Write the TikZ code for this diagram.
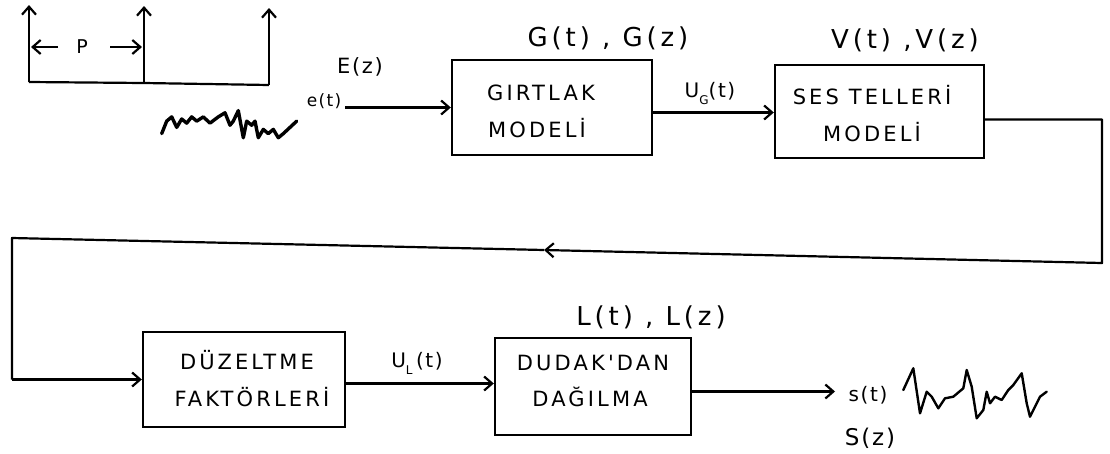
\documentclass[tikz,border=0pt]{standalone}
\usepackage{fontspec}
\usetikzlibrary{arrows.meta}
\newfontfamily\handbox[LetterSpace=15]{DejaVu Sans}
\newfontfamily\handlab[LetterSpace=15]{DejaVu Sans}
\newfontfamily\handsm[LetterSpace=8]{DejaVu Sans}
\tikzset{
  blk/.style={draw, line width=2.4pt, inner sep=0pt},
  boxtxt/.style={inner sep=0pt, font=\handbox\fontsize{21}{24}\selectfont},
  biglab/.style={inner sep=0pt, font=\handlab\fontsize{26}{29}\selectfont},
  smlab/.style={inner sep=0pt, font=\handsm\fontsize{20}{22}\selectfont},
  wire/.style={line width=2.2pt, line join=round},
  arr/.style={wire, -{Straight Barb[length=8pt,width=14pt]}},
  wave/.style={line width=3.4pt, line join=round, line cap=round}
}
\begin{document}
\begin{tikzpicture}[x=1pt,y=-1pt]
\useasboundingbox (0,0) rectangle (1110,453);

% impulse train
\coordinate (b1) at (29,82);
\coordinate (b2) at (144,83);
\coordinate (b3) at (269,85);
\coordinate (t1) at (29,5);
\coordinate (t2) at (144,6);
\coordinate (t3) at (269,8);
\draw[wire] (b1) -- (b2) -- (b3);
\draw[arr] (b1) -- (t1);
\draw[arr] (b2) -- (t2);
\draw[arr] (b3) -- (t3);
\node[smlab, font=\handsm\fontsize{19}{21}\selectfont] (p) at (82,47) {P};
\coordinate (pl1) at (58,47);
\coordinate (pl2) at (31,47);
\coordinate (pr1) at (110,47);
\coordinate (pr2) at (142,47);
\draw[arr] (pl1) -- (pl2);
\draw[arr] (pr1) -- (pr2);

% input noise
\begin{scope}[shift={(0,124)}, yscale=1.25, shift={(0,-124)}]
\draw[wave] (161.7,131.7) -- (166.7,121.7) -- (171.7,118.3) -- (176.7,126.7) -- (181.7,120) -- (186.7,123.3) -- (191.7,118.3) -- (196.7,121.7) -- (203.3,118.3) -- (210,123.3) -- (218.3,118.3) -- (225,115) -- (230,125) -- (233.3,121.7) -- (238.3,113.3) -- (243.3,135) -- (246.7,121.7) -- (251.7,125) -- (255,121.7) -- (258.3,135) -- (263.3,128.3) -- (268.3,131.7) -- (273.3,128.3) -- (278.3,135) -- (283.3,131.7) -- (290,126.7) -- (296.7,121.7);
\end{scope}
\node[smlab, font=\handsm\fontsize{17}{19}\selectfont] (et) at (324,101) {e(t)};
\node[smlab, font=\handsm\fontsize{21}{23}\selectfont] (ez) at (360,67) {E(z)};

% blocks
\node[blk, minimum width=200pt, minimum height=95pt] (gir) at (552,107.5) {};
\node[blk, minimum width=209pt, minimum height=93pt] (ses) at (879.5,111.5) {};
\node[blk, minimum width=202pt, minimum height=95pt] (duz) at (244,379.5) {};
\node[blk, minimum width=196pt, minimum height=97pt] (dud) at (593,386.5) {};

% block texts
\node[boxtxt] (g1) at (541,93) {GIRTLAK};
\node[boxtxt] (g2) at (537,128) {MODELİ};
\node[boxtxt] (s1) at (872,95) {SES TELLERİ};
\node[boxtxt] (s2) at (872,132) {MODELİ};
\node[boxtxt] (d1) at (247,360) {DÜZELTME};
\node[boxtxt] (d2) at (252,397) {FAKTÖRLERİ};
\node[boxtxt] (u1) at (593,363) {DUDAK'DAN};
\node[boxtxt] (u2) at (590,397) {DAĞILMA};

% labels
\node[biglab] (gl) at (608,38) {G(t) , G(z)};
\node[biglab] (vl) at (905,40) {V(t) ,V(z)};
\node[biglab] (ll) at (651,317) {L(t) , L(z)};
\node[smlab] (ug) at (710,93) {U\raisebox{-7pt}{\fontsize{12}{13}\selectfont G}(t)};
\node[smlab] (ul) at (417,363) {U\raisebox{-7pt}{\fontsize{12}{13}\selectfont L}\,(t)};
\node[smlab] (st) at (868,395) {s(t)};
\node[smlab, font=\handsm\fontsize{23}{25}\selectfont] (sz) at (870,438) {S(z)};

% connectors
\coordinate (ein) at (345,107.5);
\draw[arr] (ein) -- (gir.west);
\draw[arr] ([yshift=-5pt]gir.east) -- ([yshift=-5pt]gir.east -| ses.west);
\coordinate (r1) at (1102,119.5);
\coordinate (r2) at (1102,263);
\coordinate (fa) at (544,250);
\coordinate (l1) at (12,238);
\draw[arr] ([yshift=-8pt]ses.east) -- (r1) -- (r2) -- (fa);
\draw[wire] (fa) -- (l1) -- (l1 |- duz.west);
\draw[arr] (l1 |- duz.west) -- (duz.west);
\draw[arr] ([yshift=-4pt]duz.east) -- ([yshift=-4pt]duz.east -| dud.west);
\coordinate (so) at (835,391.5);
\draw[arr] ([yshift=-5pt]dud.east) -- (so);

% output speech
\draw[wave, line width=2.4pt] (903.3,390) -- (913.3,368.3) -- (920,413.3) -- (926.7,391.7) -- (931.7,396.7) -- (938.3,408.3) -- (945,398.3) -- (953.3,396.7) -- (963.3,388.3) -- (966.7,370) -- (971.7,386.7) -- (976.7,418.3) -- (983.3,410) -- (986.7,391.7) -- (990,403.3) -- (995,396.7) -- (1001.7,400) -- (1008.3,390) -- (1013.3,385) -- (1021.7,373.3) -- (1026.7,403.3) -- (1030,416.7) -- (1035,406.7) -- (1040,396.7) -- (1046.7,391.7);
\end{tikzpicture}
\end{document}
